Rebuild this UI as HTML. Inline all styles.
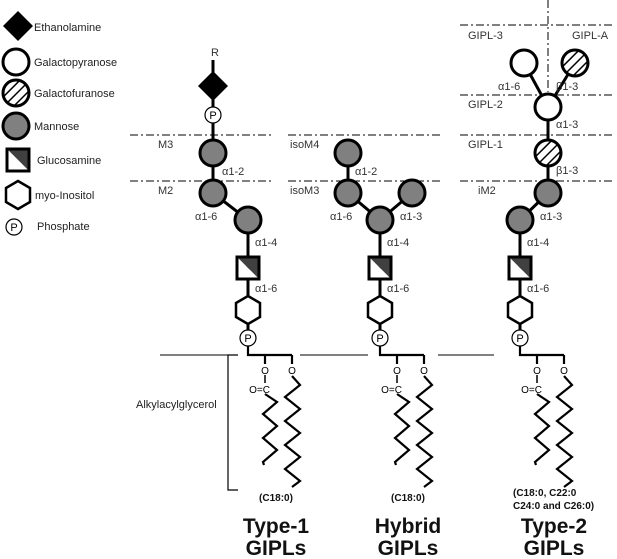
<!DOCTYPE html>
<html><head><meta charset="utf-8"><style>
html,body{margin:0;padding:0;background:#fff;width:617px;height:559px;overflow:hidden}
svg{display:block;font-family:"Liberation Sans",sans-serif}
.t{font-size:11px;fill:#222}
.l{font-size:11px;fill:#333}
.b{font-size:10px;font-weight:bold;fill:#111}
.h{font-size:21px;font-weight:bold;fill:#111}
</style></head><body>
<svg width="617" height="559" viewBox="0 0 617 559">
<defs>
<pattern id="hat" patternUnits="userSpaceOnUse" width="7" height="7" patternTransform="rotate(45)">
<rect width="7" height="7" fill="#fff"/><line x1="0" y1="0" x2="0" y2="7" stroke="#000" stroke-width="3"/>
</pattern>
<g id="man"><circle r="13" fill="#808080" stroke="#000" stroke-width="3"/></g>
<g id="galp"><circle r="13" fill="#fff" stroke="#000" stroke-width="3"/></g>
<g id="galf"><circle r="13" fill="url(#hat)" stroke="#000" stroke-width="3"/></g>
<g id="glc"><polygon points="-11,-11 11,-11 11,11" fill="#404040"/><polygon points="-11,-11 -11,11 11,11" fill="#fff"/><rect x="-11" y="-11" width="22" height="22" fill="none" stroke="#000" stroke-width="3"/></g>
<g id="hex"><polygon points="0,-14 12,-7 12,7 0,14 -12,7 -12,-7" fill="#fff" stroke="#000" stroke-width="2.5"/></g>
<g id="P"><circle r="8" fill="#fff" stroke="#000" stroke-width="1.2"/><text x="0" y="4" text-anchor="middle" font-size="11" fill="#000">P</text></g>
<g id="lip" fill="none" stroke="#000" stroke-width="2.2">
<path d="M0,346 V355 H44"/><path d="M17,355 V364"/><path d="M44,355 V364"/>
<path d="M17,375 V383" stroke-width="1.5"/>
<polyline points="17,394 29,402 15,414 29,426 15,438 29,450 15,462 16,465"/>
<polyline points="44,376 52,385 37,397 52,409 37,421 52,433 37,445 52,457 37,469 52,481 44,487"/>
</g>
</defs>

<!-- legend -->
<polygon points="18,11 33,26 18,41 3,26" fill="#000"/>
<text class="t" x="34" y="31">Ethanolamine</text>
<use href="#galp" x="16" y="62"/><text class="t" x="34" y="66">Galactopyranose</text>
<use href="#galf" x="16" y="93"/><text class="t" x="34" y="97">Galactofuranose</text>
<use href="#man" x="16" y="126"/><text class="t" x="34" y="130">Mannose</text>
<use href="#glc" x="18" y="160"/><text class="t" x="37" y="164">Glucosamine</text>
<use href="#hex" x="18" y="195"/><text class="t" x="35" y="199">myo-Inositol</text>
<use href="#P" x="14" y="227"/><text class="t" x="37" y="230">Phosphate</text>

<!-- dash lines -->
<g stroke="#000" stroke-width="1" stroke-dasharray="8,3,2,3">
<line x1="130" y1="135" x2="272" y2="135"/><line x1="130" y1="181" x2="272" y2="181"/>
<line x1="288" y1="135" x2="440" y2="135"/><line x1="288" y1="181" x2="440" y2="181"/>
<line x1="460" y1="25" x2="612" y2="25"/><line x1="460" y1="95" x2="612" y2="95"/>
<line x1="460" y1="135" x2="612" y2="135"/><line x1="460" y1="181" x2="612" y2="181"/>
<line x1="548" y1="0" x2="548" y2="92"/>
</g>
<g class="l">
<text x="158" y="148">M3</text><text x="158" y="194">M2</text>
<text x="290" y="148">isoM4</text><text x="290" y="194">isoM3</text>
<text x="468" y="39">GIPL-3</text><text x="572" y="39">GIPL-A</text>
<text x="468" y="108">GIPL-2</text><text x="468" y="148">GIPL-1</text><text x="478" y="194">iM2</text>
</g>

<!-- membrane -->
<g stroke="#000" stroke-width="1">
<line x1="160" y1="355" x2="238" y2="355"/><line x1="300" y1="355" x2="368" y2="355"/><line x1="438" y1="355" x2="494" y2="355"/>
</g>
<path d="M238,355 H228 V490 H238" fill="none" stroke="#000" stroke-width="1.2"/>
<text class="t" x="136" y="408">Alkylacylglycerol</text>

<!-- links -->
<g stroke="#000" stroke-width="3" fill="none">
<path d="M213,60 V193 L248,220 V338"/>
<path d="M348,153 V193 L380,220 L412,193 M380,220 V338"/>
<path d="M524,63 L548,107 L575,63 M548,107 V193 L520,220 V338"/>
</g>

<!-- type-1 -->
<text class="l" x="211" y="56">R</text>
<polygon points="213,71 228,86 213,101 198,86" fill="#000"/>
<use href="#P" x="213" y="115"/>
<use href="#man" x="213" y="153"/><use href="#man" x="213" y="193"/><use href="#man" x="248" y="220"/>
<use href="#glc" x="248" y="268"/><use href="#hex" x="248" y="310"/>
<!-- hybrid -->
<use href="#man" x="348" y="153"/><use href="#man" x="348" y="193"/><use href="#man" x="412" y="193"/><use href="#man" x="380" y="220"/>
<use href="#glc" x="380" y="268"/><use href="#hex" x="380" y="310"/>
<!-- type-2 -->
<use href="#galp" x="524" y="63"/><use href="#galf" x="575" y="63"/><use href="#galp" x="548" y="107"/>
<use href="#galf" x="548" y="153"/><use href="#man" x="548" y="193"/><use href="#man" x="520" y="220"/>
<use href="#glc" x="520" y="268"/><use href="#hex" x="520" y="310"/>

<g class="l">
<text x="222" y="175">α1-2</text><text x="195" y="220">α1-6</text><text x="255" y="246">α1-4</text><text x="255" y="292">α1-6</text>
<text x="355" y="175">α1-2</text><text x="330" y="220">α1-6</text><text x="400" y="220">α1-3</text><text x="387" y="246">α1-4</text><text x="387" y="292">α1-6</text>
<text x="498" y="90">α1-6</text><text x="556" y="90">β1-3</text><text x="556" y="128">α1-3</text><text x="556" y="174">β1-3</text>
<text x="540" y="220">α1-3</text><text x="527" y="246">α1-4</text><text x="527" y="292">α1-6</text>
</g>

<!-- lipids -->
<g><use href="#lip" x="248"/><use href="#P" x="248" y="338"/>
<text x="265" y="374" font-size="10" text-anchor="middle">O</text><text x="292" y="374" font-size="10" text-anchor="middle">O</text>
<text x="270" y="393" font-size="10" text-anchor="end">O=C</text></g>
<g><use href="#lip" x="380"/><use href="#P" x="380" y="338"/>
<text x="397" y="374" font-size="10" text-anchor="middle">O</text><text x="424" y="374" font-size="10" text-anchor="middle">O</text>
<text x="402" y="393" font-size="10" text-anchor="end">O=C</text></g>
<g><use href="#lip" x="520"/><use href="#P" x="520" y="338"/>
<text x="537" y="374" font-size="10" text-anchor="middle">O</text><text x="564" y="374" font-size="10" text-anchor="middle">O</text>
<text x="542" y="393" font-size="10" text-anchor="end">O=C</text></g>

<text class="b" x="276" y="501" text-anchor="middle">(C18:0)</text>
<text class="b" x="408" y="501" text-anchor="middle">(C18:0)</text>
<text class="b" x="513" y="496">(C18:0, C22:0</text>
<text class="b" x="513" y="509">C24:0 and C26:0)</text>

<text class="h" x="276" y="533" text-anchor="middle">Type-1</text><text class="h" x="276" y="555" text-anchor="middle">GIPLs</text>
<text class="h" x="408" y="533" text-anchor="middle">Hybrid</text><text class="h" x="408" y="555" text-anchor="middle">GIPLs</text>
<text class="h" x="554" y="533" text-anchor="middle">Type-2</text><text class="h" x="554" y="555" text-anchor="middle">GIPLs</text>
</svg>
</body></html>
